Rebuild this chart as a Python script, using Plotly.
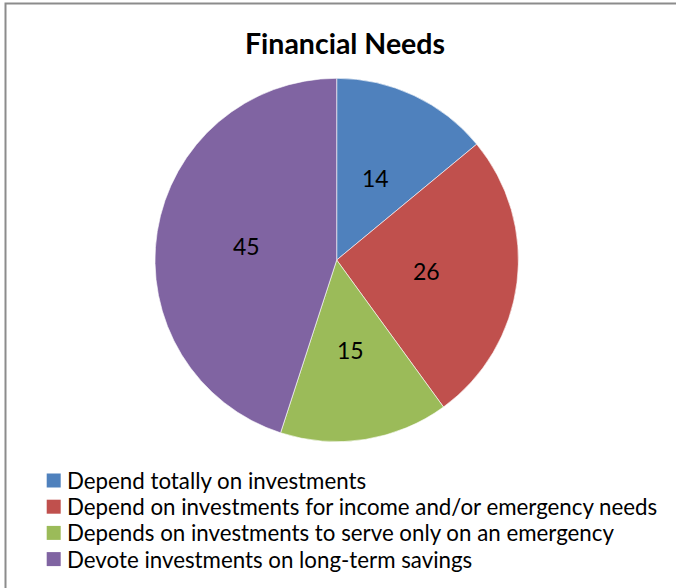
import math
import plotly.graph_objects as go

# Survey shares of respondents by financial dependence on investments
categories = [
    "Depend totally on investments",
    "Depend on investments for income and/or emergency needs",
    "Depends on investments to serve only on an emergency",
    "Devote investments on long-term savings",
]
values = [14, 26, 15, 45]
colors = ["#4F81BD", "#C0504D", "#9BBB59", "#8064A2"]

W, H = 676, 588
FONT = "Lato"

# pie geometry in pixels
CX, CY, R = 336.7, 260.0, 181.7


def px_x(x):
    return x / W


def px_y(y):
    return 1 - y / H


fig = go.Figure(
    go.Pie(
        labels=categories,
        values=values,
        sort=False,
        direction="clockwise",
        rotation=0,
        marker=dict(colors=colors, line=dict(width=0.8, color="rgba(255,255,255,0.75)")),
        textinfo="none",
        domain=dict(x=[px_x(CX - R), px_x(CX + R)],
                    y=[px_y(CY + R), px_y(CY - R)]),
        hoverinfo="label+value",
        showlegend=False,
    )
)

annotations = []

# value labels placed at half radius along each slice's mid-angle
total = sum(values)
cum = 0.0
for v in values:
    mid = (cum + v / 2) / total * 2 * math.pi
    cum += v
    lx = CX + 0.5 * R * math.sin(mid)
    ly = CY - 0.5 * R * math.cos(mid)
    annotations.append(dict(
        x=px_x(lx), y=px_y(ly), xref="paper", yref="paper",
        text=str(v), showarrow=False, xanchor="center", yanchor="middle",
        font=dict(family=FONT, size=23, color="black"),
    ))

# legend: coloured squares with category text
shapes = []
LEG_X, LEG_Y0, LEG_DY, SQ = 46.7, 480.5, 26.2, 14
for i, (name, col) in enumerate(zip(categories, colors)):
    yc = LEG_Y0 + i * LEG_DY
    shapes.append(dict(
        type="rect", xref="paper", yref="paper",
        x0=px_x(LEG_X), x1=px_x(LEG_X + SQ),
        y0=px_y(yc + SQ / 2), y1=px_y(yc - SQ / 2),
        fillcolor=col, line=dict(width=0),
    ))
    annotations.append(dict(
        x=px_x(64.5), y=px_y(yc), xref="paper", yref="paper",
        text=name, showarrow=False, xanchor="left", yanchor="middle",
        font=dict(family=FONT, size=22.3, color="black"),
    ))

# chart-area border
shapes.append(dict(
    type="rect", xref="paper", yref="paper",
    x0=px_x(5.5), x1=1.05, y0=-0.05, y1=px_y(3.5),
    line=dict(color="#8C8C8C", width=2),
    fillcolor="rgba(0,0,0,0)", layer="below",
))

fig.update_layout(
    width=W,
    height=H,
    margin=dict(l=0, r=0, t=0, b=0),
    paper_bgcolor="white",
    plot_bgcolor="white",
    font=dict(family=FONT, color="black"),
    title=dict(
        text="<b>Financial Needs</b>",
        x=px_x(345),
        xanchor="center",
        y=px_y(44),
        yanchor="middle",
        font=dict(family=FONT, size=28.5, color="black"),
    ),
    showlegend=False,
    shapes=shapes,
    annotations=annotations,
)

fig.write_html("out.html")
